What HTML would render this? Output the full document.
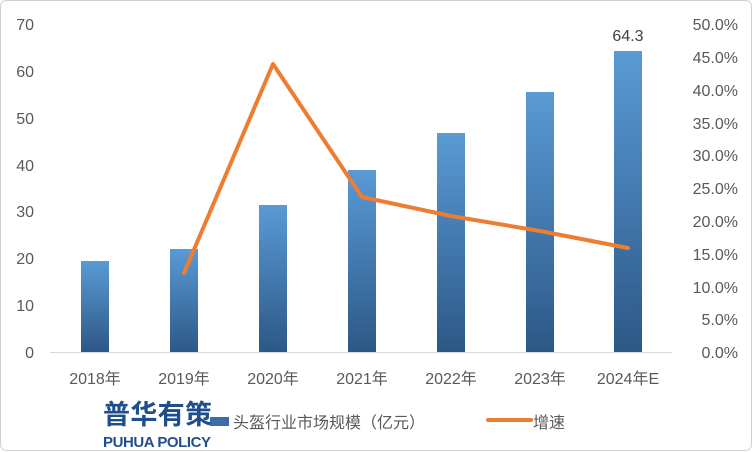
<!DOCTYPE html>
<html><head><meta charset="utf-8"><style>
body{margin:0;background:#fff}
svg{display:block;font-family:"Liberation Sans","Noto Sans CJK SC",sans-serif}
</style></head><body>
<svg width="752" height="452" viewBox="0 0 752 452">
<defs><linearGradient id="g" x1="0" y1="0" x2="0" y2="1">
<stop offset="0" stop-color="#5a9ad6"/><stop offset="1" stop-color="#2c5886"/></linearGradient></defs>
<rect x="0.5" y="0.5" width="751" height="450" rx="6" fill="#fff" stroke="#d0d0d0"/>
<g font-size="16" fill="#595959" text-anchor="end">
<text x="34" y="30">70</text><text x="34" y="77">60</text><text x="34" y="124">50</text><text x="34" y="171">40</text><text x="34" y="217">30</text><text x="34" y="264">20</text><text x="34" y="311">10</text><text x="34" y="358">0</text>
</g>
<g font-size="16" fill="#595959" text-anchor="end">
<text x="738" y="30">50.0%</text><text x="738" y="63">45.0%</text><text x="738" y="96">40.0%</text><text x="738" y="129">35.0%</text><text x="738" y="161">30.0%</text><text x="738" y="194">25.0%</text><text x="738" y="227">20.0%</text><text x="738" y="260">15.0%</text><text x="738" y="293">10.0%</text><text x="738" y="325">5.0%</text><text x="738" y="358">0.0%</text>
</g>
<line x1="50" y1="352.5" x2="672" y2="352.5" stroke="#d9d9d9"/>
<g fill="url(#g)">
<rect x="81" y="261" width="28" height="91"/>
<rect x="170" y="249" width="28" height="103"/>
<rect x="259" y="205" width="28" height="147"/>
<rect x="348" y="170" width="28" height="182"/>
<rect x="437" y="133" width="28" height="219"/>
<rect x="526" y="92" width="28" height="260"/>
<rect x="614" y="51" width="28" height="301"/>
</g>
<text x="628" y="41" font-size="16" fill="#404040" text-anchor="middle">64.3</text>
<polyline points="184,273 273,64 362,197 451,216 540,231 628,248" fill="none" stroke="#ed7d31" stroke-width="4" stroke-linejoin="round" stroke-linecap="round"/>
<g font-size="16" fill="#595959" text-anchor="middle">
<text x="95" y="384">2018年</text><text x="184" y="384">2019年</text><text x="273" y="384">2020年</text><text x="362" y="384">2021年</text><text x="451" y="384">2022年</text><text x="540" y="384">2023年</text><text x="628" y="384">2024年E</text>
</g>
<rect x="210" y="417" width="19" height="9" fill="#3a6ea5"/>
<text x="233" y="428" font-size="16" fill="#595959">头盔行业市场规模（亿元）</text>
<line x1="488" y1="420" x2="531" y2="420" stroke="#ed7d31" stroke-width="4" stroke-linecap="round"/>
<text x="533" y="428" font-size="16" fill="#595959">增速</text>
<text x="103" y="424" font-size="27" font-weight="bold" fill="#1f4e8c" textLength="109">普华有策</text>
<text x="103" y="447" font-size="15" font-weight="bold" fill="#1f4e8c" textLength="108">PUHUA POLICY</text>
</svg>
</body></html>
